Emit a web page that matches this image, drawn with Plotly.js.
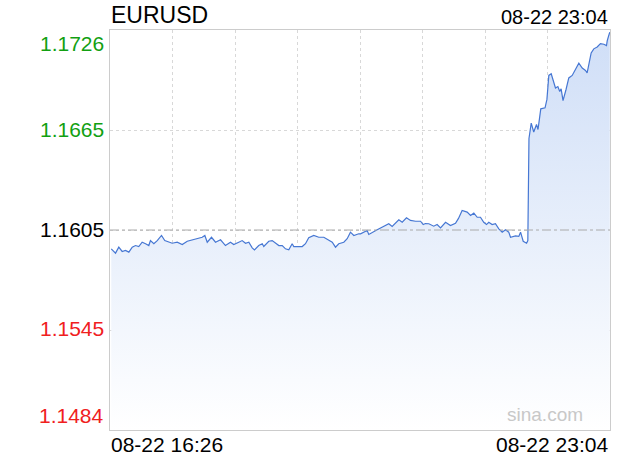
<!DOCTYPE html>
<html>
<head>
<meta charset="utf-8">
<script src="https://cdn.plot.ly/plotly-3.0.1.min.js"></script>
<style>
html,body{margin:0;padding:0;background:#fff;}
#chart{width:620px;height:460px;}
</style>
</head>
<body>
<div id="chart"></div>
<script>
// Minutes since 08-22 16:26
const minutes = [1.0,4.4,7.0,9.7,12.3,15.0,17.7,20.3,22.9,25.6,28.3,30.9,32.2,34.9,37.6,41.0,43.6,46.8,49.5,53.5,57.5,61.5,65.4,69.4,73.4,75.5,77.4,80.8,84.0,88.0,91.9,95.9,98.5,102.5,105.2,107.9,110.5,113.2,115.0,118.4,121.2,122.4,124.6,126.4,129.1,131.7,134.4,137.1,139.7,142.3,145.0,146.3,153.0,155.6,158.2,162.2,166.2,170.2,174.2,176.9,179.5,182.1,186.1,188.8,191.4,194.1,198.0,199.4,204.7,206.0,212.7,216.7,221.9,224.6,229.9,232.6,236.0,239.2,243.2,247.2,249.3,251.1,253.8,257.7,260.4,263.1,267.1,271.0,275.0,277.4,280.3,284.3,287.0,289.6,292.3,294.9,297.5,299.7,301.5,304.2,306.8,309.5,312.2,314.8,317.4,318.8,322.8,325.4,326.8,328.9,331.6,332.6,333.5,335.3,337.3,339.5,340.7,342.9,346.3,347.8,349.3,351.2,352.8,354.6,356.5,358.0,359.1,360.6,363.0,365.2,367.9,370.5,373.2,375.9,378.5,379.8,383.0,385.1,387.8,390.4,393.1,395.2,395.8,397.8];
const prices = [1.15936,1.15910,1.15946,1.15920,1.15926,1.15916,1.15946,1.15956,1.15950,1.15976,1.15967,1.15956,1.15986,1.15967,1.15986,1.16017,1.15986,1.15976,1.15970,1.15976,1.15962,1.15982,1.15991,1.15997,1.16006,1.16017,1.15976,1.16006,1.15976,1.15991,1.15956,1.15976,1.15962,1.15976,1.15986,1.15970,1.15976,1.15942,1.15930,1.15956,1.15967,1.15950,1.15970,1.15982,1.15986,1.15970,1.15956,1.15956,1.15936,1.15930,1.15967,1.15950,1.15950,1.15967,1.16003,1.16017,1.16006,1.16006,1.15986,1.15976,1.15946,1.15967,1.15976,1.15997,1.16037,1.16017,1.16027,1.16027,1.16047,1.16023,1.16051,1.16067,1.16088,1.16071,1.16112,1.16097,1.16124,1.16108,1.16103,1.16103,1.16083,1.16089,1.16088,1.16073,1.16083,1.16063,1.16097,1.16077,1.16091,1.16120,1.16168,1.16158,1.16138,1.16152,1.16127,1.16127,1.16097,1.16083,1.16097,1.16083,1.16088,1.16057,1.16037,1.16051,1.16037,1.16006,1.16014,1.16011,1.16037,1.15982,1.15970,1.15986,1.16604,1.16697,1.16643,1.16688,1.16658,1.16783,1.16789,1.16840,1.16985,1.16995,1.16948,1.16909,1.16918,1.16888,1.16904,1.16833,1.16900,1.16970,1.16985,1.17021,1.17059,1.17030,1.17015,1.17000,1.17121,1.17146,1.17157,1.17178,1.17174,1.17166,1.17196,1.17247];

const symbol = 'EURUSD';
const startLabel = '08-22 16:26';
const endLabel = '08-22 23:04';
const totalMinutes = 398;
const prevClose = 1.1605;
const yTickValues = [1.1726, 1.1665, 1.1605, 1.1545, 1.1484];
const yTickLabels = ['1.1726', '1.1665', '1.1605', '1.1545', '1.1484'];
const yMin = 1.1484, yMax = 1.1726;

const FONT = '"Liberation Sans", Arial, Helvetica, sans-serif';

function tickColor(v) {
  if (Math.abs(v - prevClose) < 1e-6) return '#000000';
  return v > prevClose ? '#12a012' : '#f0201e';
}

const annotations = yTickValues.map((v, i) => ({
  xref: 'paper', yref: 'y', x: 0, y: v,
  xanchor: 'right',
  yanchor: i === 0 ? 'top' : (i === yTickValues.length - 1 ? 'bottom' : 'middle'),
  xshift: -4, yshift: i === yTickValues.length - 1 ? 1 : (i === 0 ? 0 : 1),
  text: yTickLabels[i], showarrow: false,
  font: {family: FONT, size: 21, color: tickColor(v)}
}));

annotations.push(
  {xref: 'paper', yref: 'paper', x: 0, y: 1, xanchor: 'left', yanchor: 'bottom', xshift: -1, yshift: 0,
   text: symbol, showarrow: false, font: {family: FONT, size: 23, color: '#000'}},
  {xref: 'paper', yref: 'paper', x: 1, y: 1, xanchor: 'right', yanchor: 'bottom', xshift: 0, yshift: 0,
   text: endLabel, showarrow: false, font: {family: FONT, size: 20, color: '#000'}},
  {xref: 'paper', yref: 'paper', x: 0, y: 0, xanchor: 'left', yanchor: 'top', xshift: -1, yshift: -1,
   text: startLabel, showarrow: false, font: {family: FONT, size: 21, color: '#000'}},
  {xref: 'paper', yref: 'paper', x: 1, y: 0, xanchor: 'right', yanchor: 'top', xshift: 0, yshift: -1,
   text: endLabel, showarrow: false, font: {family: FONT, size: 21, color: '#000'}},
  {xref: 'paper', yref: 'paper', x: 0.95, y: 0.04, xanchor: 'right', yanchor: 'middle',
   text: 'sina.com', showarrow: false, font: {family: FONT, size: 19, color: '#c8c8c8'}}
);

const trace = {
  x: minutes, y: prices, type: 'scatter', mode: 'lines',
  line: {color: '#4677d3', width: 1.2},
  fill: 'tozeroy',
  fillgradient: {type: 'vertical', start: yMin, stop: yMax,
    colorscale: [[0, '#ffffff'], [1, '#cfdef7']]},
  hoverinfo: 'skip'
};

const layout = {
  width: 620, height: 460,
  margin: {l: 110, r: 10, t: 30, b: 30},
  paper_bgcolor: '#ffffff', plot_bgcolor: '#ffffff',
  showlegend: false,
  xaxis: {
    range: [0, totalMinutes], tick0: 0, dtick: totalMinutes / 8,
    showticklabels: false, ticks: '',
    showgrid: true, gridcolor: '#d8d8d8', griddash: 'dot', gridwidth: 1,
    zeroline: false, showline: true, mirror: true, linecolor: '#cccccc', linewidth: 1,
    fixedrange: true
  },
  yaxis: {
    range: [yMin, yMax], tick0: yMin, dtick: (yMax - yMin) / 4,
    showticklabels: false, ticks: '',
    showgrid: true, gridcolor: '#d8d8d8', griddash: 'dot', gridwidth: 1,
    zeroline: false, showline: true, mirror: true, linecolor: '#cccccc', linewidth: 1,
    fixedrange: true
  },
  shapes: [{
    type: 'line', xref: 'paper', yref: 'y', x0: 0, x1: 1, y0: prevClose, y1: prevClose,
    line: {color: '#aaaaaa', width: 1, dash: 'dashdot'}, layer: 'above'
  }],
  annotations: annotations
};

Plotly.newPlot('chart', [trace], layout, {displayModeBar: false, staticPlot: true});
</script>
</body>
</html>
